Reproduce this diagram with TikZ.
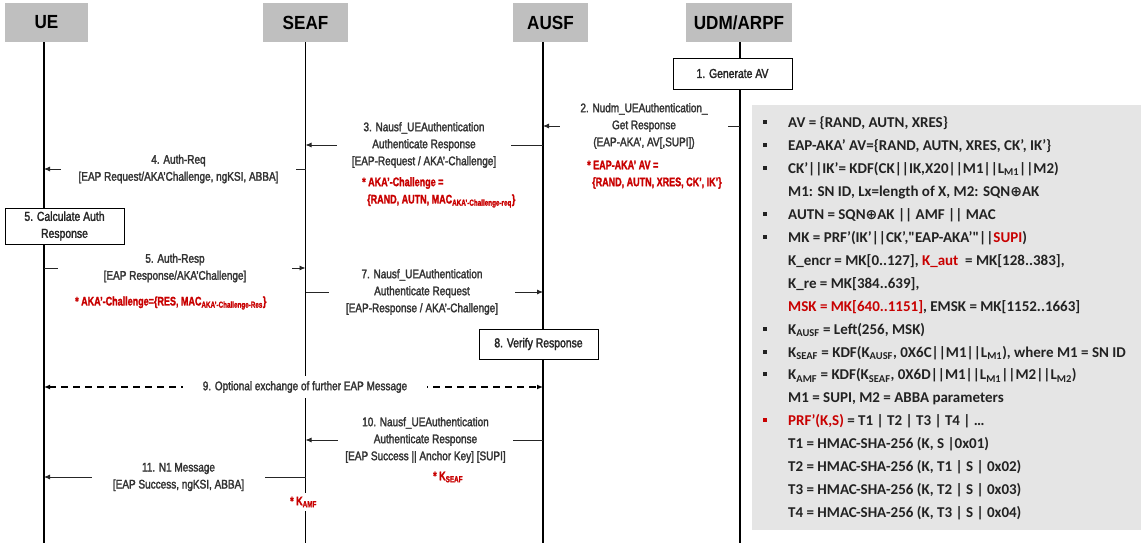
\documentclass[tikz,border=0pt]{standalone}
\usepackage{fontspec}
\usetikzlibrary{arrows.meta}
\newfontfamily\cond[FakeStretch=0.8,FakeBold=2]{Liberation Sans}
\newfontfamily\condkey[FakeStretch=0.72,FakeBold=1.5]{Liberation Sans}
\newfontfamily\condhead[FakeStretch=0.9]{Liberation Sans}
\newfontfamily\panelfont{Carlito}
\newfontfamily\symfont{DejaVu Sans}
\definecolor{txtgray}{HTML}{333333}
\definecolor{keyred}{HTML}{C80000}
\definecolor{hdrgray}{HTML}{BFBFBF}
\definecolor{panelgray}{HTML}{E5E5E5}
\definecolor{ptext}{HTML}{222222}
\newcommand\xor{{\symfont\fontsize{14}{14}\selectfont ⊕}}
\pgfdeclarelayer{lines}
\pgfsetlayers{lines,main}
\begin{document}
\begin{tikzpicture}[x=1pt,y=-1pt,
  hdr/.style={fill=hdrgray, minimum height=39pt, inner sep=0pt,
    font=\condhead\bfseries\fontsize{19}{19}\selectfont, text=black},
  life/.style={line width=1.3pt, black},
  actbox/.style={draw=black, line width=0.8pt, fill=white, inner sep=0pt, align=center,
    font=\cond\fontsize{13}{17}\selectfont, text=black!85},
  msg/.style={line width=0.8pt, draw=black!85, -{Latex[length=6pt,width=5pt]}},
  dmsg/.style={line width=1.2pt, draw=black, dash pattern=on 7pt off 5pt,
    {Latex[length=6pt,width=5pt]}-{Latex[length=6pt,width=5pt]}},
  lbl/.style={fill=white, inner sep=0pt, align=center,
    font=\cond\fontsize{12.5}{17}\selectfont, text=txtgray},
  note/.style={inner sep=0pt, anchor=west,
    font=\condkey\bfseries\fontsize{12.5}{17}\selectfont, text=keyred},
  ptxt/.style={inner sep=0pt, anchor=base west,
    font=\panelfont\bfseries\fontsize{15}{15}\selectfont, text=ptext},
]
\useasboundingbox (0,0) rectangle (1141,548);

% entity headers
\node[hdr, minimum width=83pt]  (ue)   at (46.5,22.5)  {UE};
\node[hdr, minimum width=85pt]  (seaf) at (305.5,22.5) {SEAF};
\node[hdr, minimum width=75pt]  (ausf) at (550.5,22.5) {AUSF};
\node[hdr, minimum width=106pt] (udm)  at (739,22.5)   {UDM/ARPF};

% lifeline end points
\coordinate (ue-t)   at (44,42);    \coordinate (ue-b)   at (44,543);
\coordinate (seaf-t) at (305.5,42); \coordinate (seaf-b) at (305.5,543);
\coordinate (ausf-t) at (543,42);   \coordinate (ausf-b) at (543,543);
\coordinate (udm-t)  at (740,42);   \coordinate (udm-b)  at (740,543);

% local actions
\node[actbox, minimum width=119pt, minimum height=31pt] (gen) at (732.5,73.5) {1. Generate AV};
\node[actbox, minimum width=119pt, minimum height=36pt] (calc) at (64.5,226) {5. Calculate Auth\\Response};
\node[actbox, minimum width=119pt, minimum height=30pt] (ver) at (538.5,344) {8. Verify Response};

% message labels (the white backing splits each arrow)
\node[lbl, minimum width=168pt] (m2) at (644,126) {2. Nudm\_UEAuthentication\_\\Get Response\\(EAP-AKA’, AV[,SUPI])};
\node[lbl, minimum width=174pt] (m3) at (424,145) {3. Nausf\_UEAuthentication\\Authenticate Response\\{[}EAP-Request / AKA’-Challenge]};
\node[lbl, minimum width=235pt] (m4) at (178.5,169) {4. Auth-Req\\{[}EAP Request/AKA’Challenge, ngKSI, ABBA]};
\node[lbl, minimum width=234pt] (m5) at (175,268) {5. Auth-Resp\\{[}EAP Response/AKA’Challenge]};
\node[lbl, minimum width=186pt] (m7) at (422,292) {7. Nausf\_UEAuthentication\\Authenticate Request\\{[}EAP-Response / AKA’-Challenge]};
\node[lbl, minimum width=244pt, minimum height=22pt] (m9) at (305,387) {9. Optional exchange of further EAP Message};
\node[lbl, minimum width=175pt] (m10) at (425.5,440) {10. Nausf\_UEAuthentication\\Authenticate Response\\{[}EAP Success || Anchor Key] [SUPI]};
\node[lbl, minimum width=173pt] (m11) at (178.5,477) {11. N1 Message\\{[}EAP Success, ngKSI, ABBA]};

% key annotations
\node[note] (n2a) at (587,165) {* EAP-AKA’ AV =};
\node[note] (n2b) at (592,183) {\{RAND, AUTN, XRES, CK’, IK’\}};
\node[note] (n3a) at (362,183) {* AKA’-Challenge =};
\node[note] (n3b) at (367,201) {\{RAND, AUTN, MAC\textsubscript{AKA’-Challenge-req}\}};
\node[note] (n5)  at (75,303)  {* AKA’-Challenge=\{RES, MAC\textsubscript{AKA’-Challenge-Res}\}};
\node[note] (n10) at (433,477) {* K\textsubscript{SEAF}};
\node[note, fill=white, inner ysep=4pt] (n11) at (290,502) {* K\textsubscript{AMF}};

% panel text
\node[ptxt] (p1)  at (788,128)   {AV = \{RAND, AUTN, XRES\}};
\node[ptxt] (p2)  at (788,150.9) {EAP-AKA’ AV=\{RAND, AUTN, XRES, CK’, IK’\}};
\node[ptxt] (p3)  at (788,173.8) {CK’||IK’= KDF(CK||IK,X20||M1||L\textsubscript{M1}||M2)};
\node[ptxt] (p4)  at (788,196.7) {M1: SN ID, Lx=length of X, M2: SQN\xor AK};
\node[ptxt] (p5)  at (788,219.6) {AUTN = SQN\xor AK || AMF || MAC};
\node[ptxt] (p6)  at (788,242.5) {MK = PRF’(IK’||CK’,"EAP-AKA’"||\textcolor{keyred}{SUPI})};
\node[ptxt] (p7)  at (788,265.4) {K\_encr = MK[0..127], \textcolor{keyred}{K\_aut}\ \ = MK[128..383],};
\node[ptxt] (p8)  at (788,288.3) {K\_re = MK[384..639],};
\node[ptxt] (p9)  at (788,311.2) {\textcolor{keyred}{MSK = MK[640..1151]}, EMSK = MK[1152..1663]};
\node[ptxt] (p10) at (788,334.1) {K\textsubscript{AUSF} = Left(256, MSK)};
\node[ptxt] (p11) at (788,357)   {K\textsubscript{SEAF} = KDF(K\textsubscript{AUSF}, 0X6C||M1||L\textsubscript{M1}), where M1 = SN ID};
\node[ptxt] (p12) at (788,379.9) {K\textsubscript{AMF} = KDF(K\textsubscript{SEAF}, 0X6D||M1||L\textsubscript{M1}||M2||L\textsubscript{M2})};
\node[ptxt] (p13) at (788,402.8) {M1 = SUPI, M2 = ABBA parameters};
\node[ptxt] (p14) at (788,425.7) {\textcolor{keyred}{PRF’(K,S)} = T1 | T2 | T3 | T4 | …};
\node[ptxt] (p15) at (788,448.6) {T1 = HMAC-SHA-256 (K, S |0x01)};
\node[ptxt] (p16) at (788,471.5) {T2 = HMAC-SHA-256 (K, T1 | S | 0x02)};
\node[ptxt] (p17) at (788,494.4) {T3 = HMAC-SHA-256 (K, T2 | S | 0x03)};
\node[ptxt] (p18) at (788,517.3) {T4 = HMAC-SHA-256 (K, T3 | S | 0x04)};

\begin{pgfonlayer}{lines}
  % summary panel background and bullets
  \fill[panelgray] (752,105) rectangle (1141,530);
  \foreach \b in {128,150.9,173.8,219.6,242.5,334.1,357,379.9}
    \fill[ptext] (763,\b-7.5) rectangle (767,\b-3.5);
  \fill[keyred] (763,425.7-7.5) rectangle (767,425.7-3.5);

  % lifelines
  \draw[life] (ue-t) -- (ue-b);
  \draw[life] (seaf-t) -- (seaf-b);
  \draw[life] (ausf-t) -- (ausf-b);
  \draw[life] (udm-t) -- (udm-b);

  % messages
  \draw[msg] (udm-t |- m2) -- (ausf-t |- m2);
  \draw[msg] (ausf-t |- m3) -- (seaf-t |- m3);
  \draw[msg] (seaf-t |- m4) -- (ue-t |- m4);
  \draw[msg] (ue-t |- m5) -- (seaf-t |- m5);
  \draw[msg] (seaf-t |- m7) -- (ausf-t |- m7);
  \draw[dmsg] (ue-t |- m9) -- (ausf-t |- m9);
  \draw[msg] (ausf-t |- m10) -- (seaf-t |- m10);
  \draw[msg] (seaf-t |- m11) -- (ue-t |- m11);
\end{pgfonlayer}
\end{tikzpicture}
\end{document}
